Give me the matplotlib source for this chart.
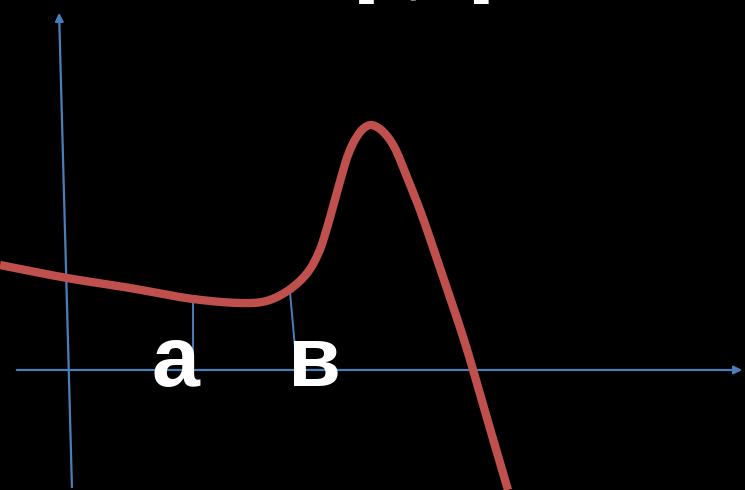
import numpy as np
import matplotlib.pyplot as plt
from matplotlib.patches import FancyArrowPatch

# curve (pixel coordinates, y grows downwards)
curve_x = [0, 67, 130, 193, 240, 262, 277, 293, 308, 319, 327, 334, 341,
           348, 356, 364, 371, 380, 392, 407, 420, 443, 465, 486, 508]
curve_y = [265, 278, 288, 299, 303, 302, 297, 287, 272, 252, 228, 203, 178,
           155, 138, 128, 125, 129, 143, 177, 210, 277, 343, 415, 490]

labels = ['a', 'в']
label_x = [175, 314]
title_text = '[a; в]'

W, H = 745, 490
blue = '#4a7ebb'
red = '#c0504d'


def catmull_rom(xs, ys, n=30):
    # centripetal catmull-rom through the sampled points
    p = np.column_stack([xs, ys]).astype(float)
    p = np.vstack([2 * p[0] - p[1], p, 2 * p[-1] - p[-2]])
    out = []
    for i in range(1, len(p) - 2):
        p0, p1, p2, p3 = p[i - 1], p[i], p[i + 1], p[i + 2]
        t0 = 0.0
        t1 = t0 + np.linalg.norm(p1 - p0) ** 0.5
        t2 = t1 + np.linalg.norm(p2 - p1) ** 0.5
        t3 = t2 + np.linalg.norm(p3 - p2) ** 0.5
        t = np.linspace(t1, t2, n)[:, None]
        a1 = (t1 - t) / (t1 - t0) * p0 + (t - t0) / (t1 - t0) * p1
        a2 = (t2 - t) / (t2 - t1) * p1 + (t - t1) / (t2 - t1) * p2
        a3 = (t3 - t) / (t3 - t2) * p2 + (t - t2) / (t3 - t2) * p3
        b1 = (t2 - t) / (t2 - t0) * a1 + (t - t0) / (t2 - t0) * a2
        b2 = (t3 - t) / (t3 - t1) * a2 + (t - t1) / (t3 - t1) * a3
        c = (t2 - t) / (t2 - t1) * b1 + (t - t1) / (t2 - t1) * b2
        out.append(c)
    out = np.vstack(out)
    return out[:, 0], out[:, 1]


fig = plt.figure(figsize=(W / 100, H / 100), dpi=100)
fig.patch.set_facecolor('black')
ax = fig.add_axes([0, 0, 1, 1])
ax.set_facecolor('black')
ax.set_xlim(0, W)
ax.set_ylim(H, 0)
ax.axis('off')

# axes with arrow heads
ax.add_patch(FancyArrowPatch((14, 370), (745, 370), arrowstyle='-|>',
                             mutation_scale=12, color=blue, lw=1.6))
ax.add_patch(FancyArrowPatch((72, 490), (59, 10), arrowstyle='-|>',
                             mutation_scale=12, color=blue, lw=1.6))

# lines from a and b up to the curve
ax.plot([193, 193], [370, 298], color=blue, lw=1.4)
ax.plot([297, 290], [370, 292], color=blue, lw=1.4)

sx, sy = catmull_rom(curve_x, curve_y)
ax.plot(sx, sy, color=red, lw=6, solid_capstyle='butt')

for lab, lx in zip(labels, label_x):
    ax.text(lx, 386, lab, color='white', fontsize=62, fontweight='bold',
            family='Liberation Sans', ha='center', va='baseline')

# title sits mostly above the picture, only its bottom shows
ax.text(424, -8, title_text, color='white', fontsize=40, fontweight='bold',
        family='Liberation Sans', ha='center', va='baseline', clip_on=False)

fig.savefig('out.png', dpi=100, facecolor='black')
